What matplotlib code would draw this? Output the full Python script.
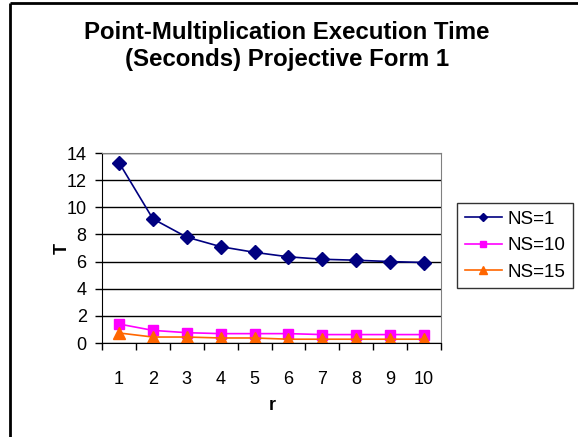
import matplotlib
matplotlib.use("Agg")
import matplotlib.pyplot as plt
from matplotlib.lines import Line2D
import numpy as np

plt.rcParams['font.family'] = ['Liberation Sans', 'DejaVu Sans']

r_values = [1, 2, 3, 4, 5, 6, 7, 8, 9, 10]
ns1 = [13.3, 9.15, 7.8, 7.1, 6.68, 6.35, 6.17, 6.1, 6.0, 5.93]
ns10 = [1.4, 0.93, 0.76, 0.69, 0.69, 0.69, 0.62, 0.62, 0.62, 0.62]
ns15 = [0.74, 0.44, 0.44, 0.37, 0.37, 0.28, 0.28, 0.28, 0.28, 0.28]
series_labels = ["NS=1", "NS=10", "NS=15"]
y_ticks = [0, 2, 4, 6, 8, 10, 12, 14]

W, H = 578, 437
fig = plt.figure(figsize=(W / 100, H / 100), dpi=100)

# chart area frame (left and top edges)
fig.add_artist(Line2D([10 / W, 10 / W], [0, 1 - 3 / H], transform=fig.transFigure,
                      color='black', lw=2, solid_capstyle='butt'))
fig.add_artist(Line2D([10 / W, 1.01], [1 - 3 / H, 1 - 3 / H], transform=fig.transFigure,
                      color='black', lw=2, solid_capstyle='butt'))

ax = fig.add_axes([102 / W, 1 - 343 / H, (441 - 102) / W, (343 - 153) / H])

x = np.arange(1, len(r_values) + 1)
ax.plot(x, ns1, color='#000080', lw=1.2, marker='D', markersize=7, label=series_labels[0])
ax.plot(x, ns10, color='#FF00FF', lw=1.2, marker='s', markersize=6.5, label=series_labels[1])
ax.plot(x, ns15, color='#FF6600', lw=1.2, marker='^', markersize=8, label=series_labels[2])

ax.set_xlim(0.5, len(r_values) + 0.5)
ax.set_ylim(0, 14)
ax.set_yticks(y_ticks)
ax.set_yticklabels([str(v) for v in y_ticks], fontsize=13)
ax.yaxis.grid(True, color='black', lw=1)
ax.set_axisbelow(True)

ax.set_xticks(x)
ax.set_xticklabels([str(v) for v in r_values], fontsize=13)
ax.set_xticks(np.arange(0.5, len(r_values) + 1, 1), minor=True)
ax.tick_params(axis='x', which='major', length=0, pad=20)
ax.tick_params(axis='x', which='minor', length=5, width=1, direction='out')
ax.tick_params(axis='y', length=5, width=1, direction='out', pad=6)

for side in ('top', 'right'):
    ax.spines[side].set_color('#808080')
ax.spines['left'].set_color('black')
ax.spines['bottom'].set_color('black')

fig.text(287 / W, 1 - 46 / H, "Point-Multiplication Execution Time\n(Seconds) Projective Form 1",
         ha='center', va='center', fontsize=17.3, fontweight='bold', linespacing=1.25)
fig.text(272 / W, 1 - 405 / H, "r", ha='center', va='center', fontsize=13, fontweight='bold')
fig.text(62 / W, 1 - 248 / H, "T", ha='center', va='center', fontsize=13, fontweight='bold',
         rotation=90)

leg = ax.legend(loc='upper left', bbox_to_anchor=(457 / W, 1 - 203 / H),
                bbox_transform=fig.transFigure, fontsize=13.5, frameon=True,
                fancybox=False, edgecolor='black', borderpad=0.4, labelspacing=0.5,
                handlelength=2.0, handletextpad=0.3, borderaxespad=0, markerscale=0.65)
leg.get_frame().set_linewidth(1)

fig.savefig("out.png", dpi=100)
